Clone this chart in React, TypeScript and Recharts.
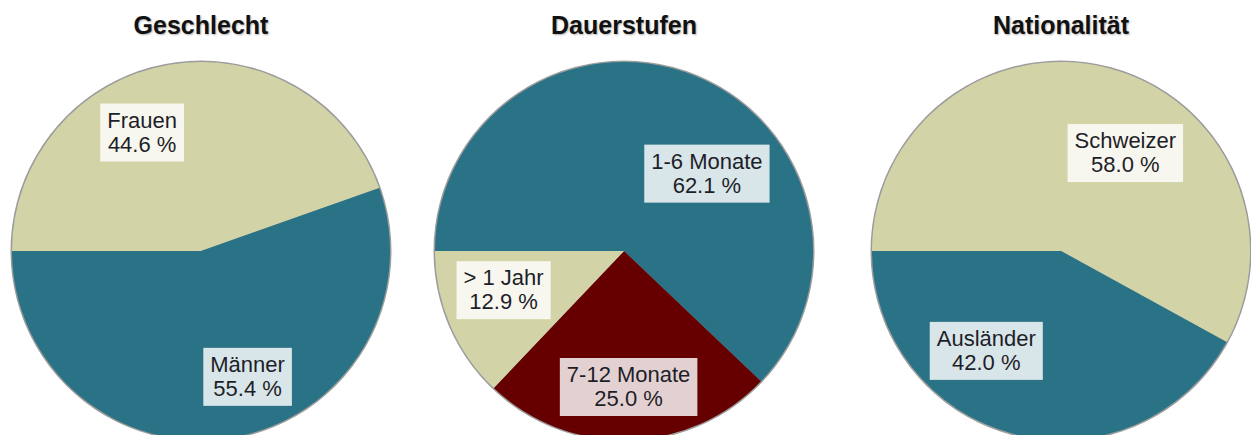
import React, { useLayoutEffect, useRef, useState } from 'react';
import { PieChart, Pie, Cell } from 'recharts';

const teal = '#2a7286';
const beige = '#d3d3a8';
const darkRed = '#660000';

const geschlechtNames = ['Frauen', 'Männer'];
const geschlechtValues = [44.6, 55.4];

const dauerNames = ['1-6 Monate', '7-12 Monate', '> 1 Jahr'];
const dauerValues = [62.1, 25.0, 12.9];

const nationNames = ['Schweizer', 'Ausländer'];
const nationValues = [58.0, 42.0];

// label placement: angle shift from slice mid angle (deg), radius fraction
const labelPlacement: Record<string, [number, number]> = {
  Frauen: [16.7, 0.7],
  'Männer': [10.6, 0.71],
  '1-6 Monate': [-25.2, 0.6],
  '7-12 Monate': [0.5, 0.72],
  '> 1 Jahr': [-5.2, 0.67],
  Schweizer: [-18.9, 0.62],
  'Ausländer': [-22.4, 0.66],
};

const font = "Arial, 'Liberation Sans', sans-serif";

const makeData = (names: string[], values: number[]) =>
  names.map((name, i) => ({ name, value: values[i] }));

const charts = [
  { title: 'Geschlecht', data: makeData(geschlechtNames, geschlechtValues), colors: [beige, teal], cx: 201 },
  { title: 'Dauerstufen', data: makeData(dauerNames, dauerValues), colors: [teal, darkRed, beige], cx: 624 },
  { title: 'Nationalität', data: makeData(nationNames, nationValues), colors: [beige, teal], cx: 1061 },
];

const CY = 251;
const R = 189;

const SliceLabel = (props: any) => {
  const { cx, cy, midAngle, outerRadius } = props;
  const name: string = props.payload?.name ?? props.name;
  const value: number = props.payload?.value ?? props.value;
  const [shift, frac] = labelPlacement[name] ?? [0, 0.65];
  const a = ((midAngle + shift) * Math.PI) / 180;
  const r = outerRadius * frac;
  const x = cx + r * Math.cos(a);
  const y = cy - r * Math.sin(a);
  const ref = useRef<SVGTextElement>(null);
  const [w, setW] = useState(0);
  useLayoutEffect(() => {
    if (ref.current) setW(ref.current.getBBox().width);
  }, [name]);
  const bw = w + 14;
  return (
    <g>
      <rect x={x - bw / 2} y={y - 29} width={bw} height={58} fill="#ffffff" fillOpacity={0.82} />
      <text ref={ref} x={x} textAnchor="middle" fontSize={22} fill="#1e1e28" fontFamily={font}>
        <tspan x={x} y={y - 5}>{name}</tspan>
        <tspan x={x} y={y + 19}>{value.toFixed(1)} %</tspan>
      </text>
    </g>
  );
};

export default function App() {
  return (
    <div style={{ position: 'relative', width: 1251, height: 435, background: '#fff' }}>
      <style>{'body{margin:0}'}</style>
      <PieChart width={1251} height={435} margin={{ top: 0, right: 0, bottom: 0, left: 0 }}>
        {charts.map((c) => (
          <Pie
            key={c.title + '-bg'}
            data={[{ name: 'bg', value: 1 }]}
            dataKey="value"
            cx={c.cx}
            cy={CY}
            outerRadius={R + 1.5}
            fill="#9c9c9c"
            stroke="none"
            isAnimationActive={false}
          />
        ))}
        {charts.map((c) => (
          <Pie
            key={c.title}
            data={c.data}
            dataKey="value"
            nameKey="name"
            cx={c.cx}
            cy={CY}
            outerRadius={R}
            startAngle={180}
            endAngle={-180}
            stroke="none"
            labelLine={false}
            label={(p: any) => <SliceLabel {...p} />}
            isAnimationActive={false}
          >
            {c.data.map((d, i) => (
              <Cell key={d.name} fill={c.colors[i]} />
            ))}
          </Pie>
        ))}
      </PieChart>
      {charts.map((c) => (
        <div
          key={c.title + '-t'}
          style={{
            position: 'absolute',
            left: c.cx - 120,
            width: 240,
            top: 13,
            textAlign: 'center',
            fontFamily: font,
            fontWeight: 'bold',
            fontSize: 25,
            lineHeight: '25px',
            color: '#111',
            textShadow: '1px 1px 2px rgba(0,0,0,0.3)',
          }}
        >
          {c.title}
        </div>
      ))}
    </div>
  );
}
